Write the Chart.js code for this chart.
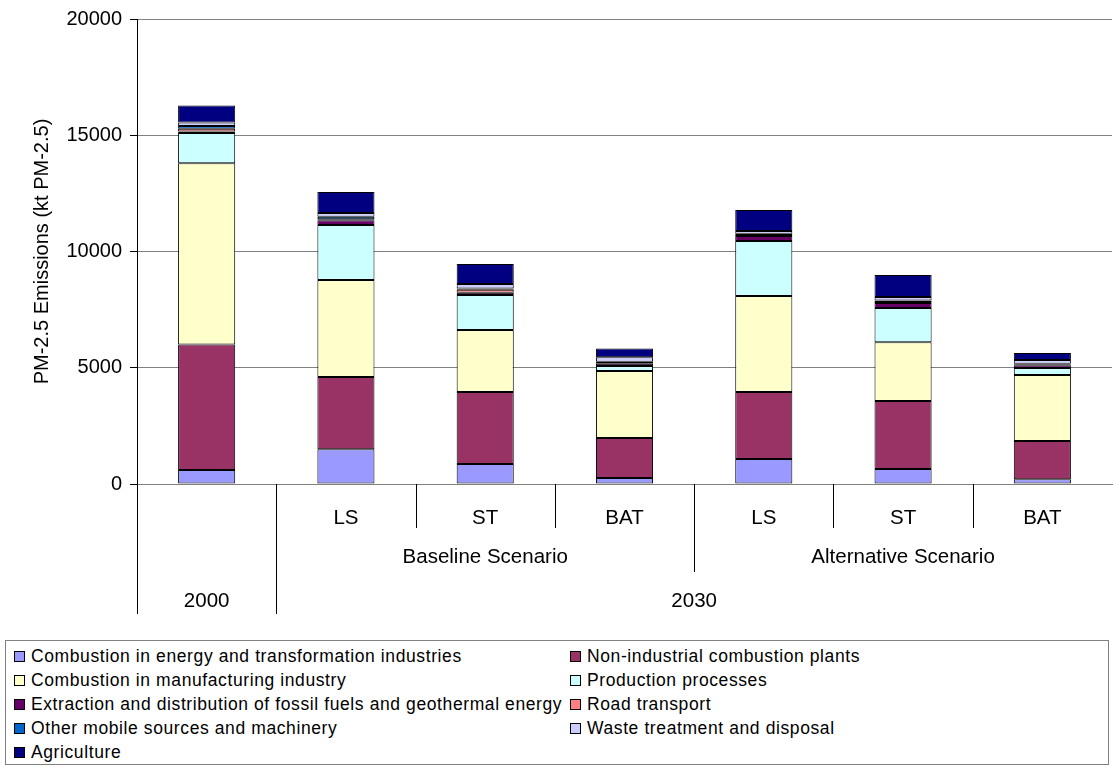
<!DOCTYPE html>
<html>
<head>
<meta charset="utf-8">
<script src="https://cdn.jsdelivr.net/npm/chart.js@4.4.1/dist/chart.umd.min.js"></script>
<style>
  body { margin: 0; background: #fff; font-family: "Liberation Sans", Arial, sans-serif; }
  #wrap { position: relative; width: 1113px; height: 768px; }
  #chart { position: absolute; left: 0; top: 0; }
  #legend {
    position: absolute; left: 5px; top: 640px; width: 1104px; height: 125px;
    border: 1px solid #808080; box-sizing: border-box;
    display: grid; grid-template-columns: 556px 540px; grid-auto-rows: 24.2px;
    padding: 3px 0 0 8px; font-size: 17.5px; letter-spacing: 0.6px; color: #000;
  }
  #legend div { display: flex; align-items: center; white-space: nowrap; }
  #legend span.sw { width: 9px; height: 9px; border: 1px solid #000; margin-right: 6px; flex: none; }
</style>
</head>
<body>
<div id="wrap">
  <canvas id="chart" width="1113" height="630"></canvas>
  <div id="legend"></div>
</div>
<script>
// categories (bottom level labels) and groupings
const catLabels = ['', 'LS', 'ST', 'BAT', 'LS', 'ST', 'BAT'];
const scenarioGroups = [
  { from: 0, to: 0, label: '' },
  { from: 1, to: 3, label: 'Baseline Scenario' },
  { from: 4, to: 6, label: 'Alternative Scenario' }
];
const yearGroups = [
  { from: 0, to: 0, label: '2000' },
  { from: 1, to: 6, label: '2030' }
];

// series values (kt PM-2.5)
const energy      = [600, 1500, 860, 260, 1080, 650, 200];
const nonInd      = [5400, 3100, 3100, 1720, 2880, 2920, 1650];
const manuf       = [7800, 4170, 2660, 2880, 4130, 2530, 2840];
const production  = [1300, 2370, 1510, 215, 2360, 1470, 300];
const extraction  = [60, 200, 100, 100, 220, 220, 120];
const road        = [120, 50, 120, 30, 40, 40, 20];
const otherMobile = [120, 100, 60, 50, 50, 60, 40];
const waste       = [150, 170, 190, 200, 120, 150, 160];
const agriculture = [730, 900, 860, 370, 900, 950, 300];

const yTicks = [0, 5000, 10000, 15000, 20000];

const series = [
  ['Combustion in energy and transformation industries', energy, '#9999FF'],
  ['Non-industrial combustion plants', nonInd, '#993366'],
  ['Combustion in manufacturing industry', manuf, '#FFFFCC'],
  ['Production processes', production, '#CCFFFF'],
  ['Extraction and distribution of fossil fuels and geothermal energy', extraction, '#660066'],
  ['Road transport', road, '#FF8080'],
  ['Other mobile sources and machinery', otherMobile, '#0066CC'],
  ['Waste treatment and disposal', waste, '#CCCCFF'],
  ['Agriculture', agriculture, '#000080']
];

const FONT = '"Liberation Sans", Arial, sans-serif';

// multi-level category axis drawn under the plot
const groupAxis = {
  id: 'groupAxis',
  afterDraw(chart) {
    const ctx = chart.ctx;
    const xs = chart.scales.x;
    const bottom = chart.chartArea.bottom;
    const edge = (i) => {
      if (i <= 0) return xs.left;
      if (i >= catLabels.length) return xs.right;
      return (xs.getPixelForValue(i - 1) + xs.getPixelForValue(i)) / 2;
    };
    ctx.save();
    ctx.strokeStyle = '#000';
    ctx.lineWidth = 1;
    // separators
    for (let i = 0; i < catLabels.length; i++) {
      let end = bottom + 44;
      if (yearGroups.some(g => g.from === i)) end = bottom + 130;
      else if (scenarioGroups.some(g => g.from === i)) end = bottom + 88;
      const x = Math.round(edge(i)) + 0.5;
      ctx.beginPath();
      ctx.moveTo(x, bottom);
      ctx.lineTo(x, end);
      ctx.stroke();
    }
    ctx.fillStyle = '#000';
    ctx.font = '20.5px ' + FONT;
    ctx.textAlign = 'center';
    ctx.textBaseline = 'middle';
    catLabels.forEach((l, i) => ctx.fillText(l, xs.getPixelForValue(i), bottom + 34));
    scenarioGroups.forEach(g => ctx.fillText(g.label, (edge(g.from) + edge(g.to + 1)) / 2, bottom + 73));
    yearGroups.forEach(g => ctx.fillText(g.label, (edge(g.from) + edge(g.to + 1)) / 2, bottom + 117));
    ctx.restore();
  }
};

new Chart(document.getElementById('chart'), {
  type: 'bar',
  data: {
    labels: catLabels,
    datasets: series.map(s => ({
      label: s[0],
      data: s[1],
      backgroundColor: s[2],
      borderColor: '#000',
      borderWidth: 1,
      borderSkipped: false,
      barPercentage: 0.41,
      categoryPercentage: 1
    }))
  },
  options: {
    responsive: false,
    animation: false,
    layout: { padding: { top: 19, right: 1, left: 0, bottom: 0 } },
    plugins: { legend: { display: false }, tooltip: { enabled: false } },
    scales: {
      x: {
        stacked: true,
        grid: { display: false },
        border: { color: '#808080' },
        ticks: { display: false },
        afterFit: (s) => { s.height = 146; }
      },
      y: {
        stacked: true,
        min: 0,
        max: 20000,
        afterBuildTicks: (s) => { s.ticks = yTicks.map(v => ({ value: v })); },
        ticks: {
          color: '#000',
          font: { family: FONT, size: 20 },
          padding: 8,
          callback: (v) => String(v)
        },
        grid: { color: '#808080', tickColor: '#000', tickLength: 7 },
        border: { color: '#000' },
        title: {
          display: true,
          text: 'PM-2.5 Emissions (kt PM-2.5)',
          color: '#000',
          font: { family: FONT, size: 20 },
          padding: { top: 30, bottom: 0 }
        },
        afterFit: (s) => { s.width = 137; s.paddingTop = 0; s.paddingBottom = 0; }
      }
    }
  },
  plugins: [groupAxis]
});

// legend
const legend = document.getElementById('legend');
series.forEach(s => {
  const d = document.createElement('div');
  d.innerHTML = '<span class="sw" style="background:' + s[2] + '"></span>' + s[0];
  legend.appendChild(d);
});
</script>
</body>
</html>
